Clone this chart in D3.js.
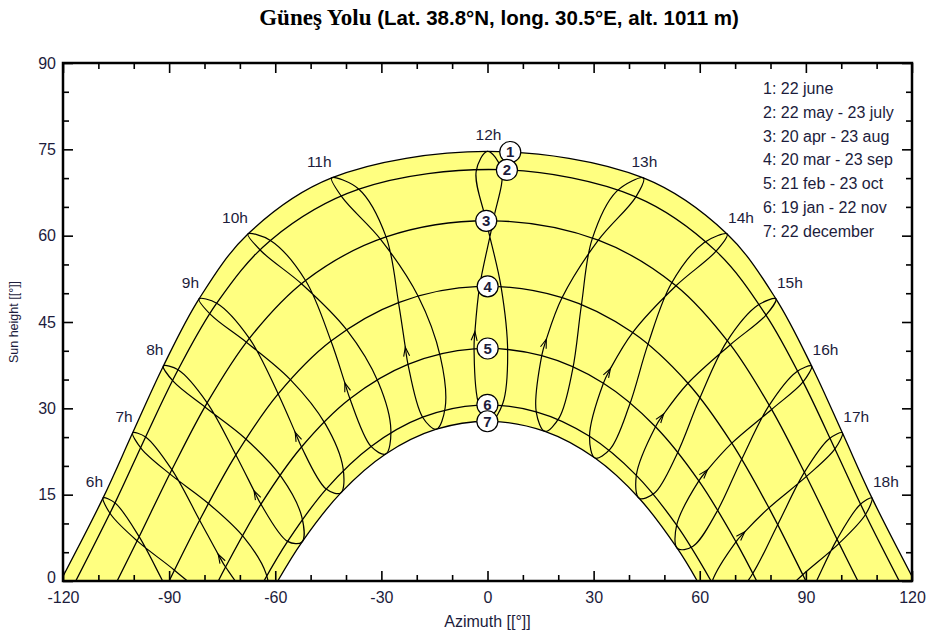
<!DOCTYPE html>
<html>
<head>
<meta charset="utf-8">
<script src="https://cdn.jsdelivr.net/npm/d3@7"></script>
<style>
  body { margin: 0; background: #ffffff; }
  text { font-family: "Liberation Sans", Arial, sans-serif; }
</style>
</head>
<body>
<svg id="chart" width="927" height="637"></svg>
<script>
// ---- Sun position [azimuth °, height °] at legal time 6h, 7h ... 18h ----
const hourLabels = ["6h", "7h", "8h", "9h", "10h", "11h", "12h", "13h", "14h", "15h", "16h", "17h", "18h"];

const jan19 = [[-74.94,-14.38],[-66.11,-3.37],[-56.51,6.88],[-45.60,15.97],[-32.92,23.38],[-18.35,28.46],[-2.39,30.57],[13.77,29.40],[28.84,25.14],[42.07,18.35],[53.47,9.69],[63.41,-0.27],[72.40,-11.09]];
const feb21 = [[-83.35,-9.02],[-74.05,2.43],[-64.04,13.34],[-52.58,23.28],[-38.89,31.67],[-22.48,37.65],[-3.80,40.33],[15.33,39.14],[32.76,34.36],[47.49,26.81],[59.74,17.40],[70.24,6.81],[79.73,-4.47]];
const mar01 = [[-85.52,-6.90],[-76.12,4.63],[-66.00,15.68],[-54.36,25.82],[-40.33,34.43],[-23.24,40.62],[-3.55,43.34],[16.63,42.00],[34.76,36.91],[49.81,29.02],[62.19,19.32],[72.73,8.54],[82.29,-2.86]];
const mar20 = [[-90.88,-1.09],[-81.38,10.56],[-71.13,21.90],[-59.17,32.51],[-44.25,41.69],[-25.16,48.38],[-2.23,51.18],[21.10,49.24],[41.03,43.17],[56.66,34.36],[69.06,23.95],[79.55,12.71],[89.12,1.09]];
const apr20 = [[-98.48,7.70],[-89.23,19.34],[-79.25,30.96],[-67.32,42.16],[-51.44,52.22],[-28.67,59.79],[1.60,62.58],[31.33,59.22],[53.29,51.30],[68.64,41.06],[80.31,29.81],[90.17,18.17],[99.39,6.54]];
const may22 = [[-105.30,13.57],[-96.65,25.03],[-87.47,36.70],[-76.54,48.27],[-61.37,59.18],[-36.35,68.07],[3.99,71.46],[41.96,66.75],[64.61,57.31],[78.72,46.21],[89.21,34.60],[98.22,22.95],[106.86,11.55]];
const jun22 = [[-108.67,14.44],[-100.31,25.74],[-91.62,37.36],[-81.54,49.02],[-67.73,60.29],[-44.07,70.03],[0.00,74.64],[44.07,70.03],[67.73,60.29],[81.54,49.02],[91.62,37.36],[100.31,25.74],[108.67,14.44]];
const jul23 = [[-106.47,11.55],[-97.81,22.97],[-88.74,34.63],[-78.17,46.23],[-63.91,57.29],[-41.06,66.64],[-3.20,71.18],[36.49,67.69],[61.28,58.80],[76.39,47.89],[87.32,36.33],[96.52,24.67],[105.22,13.20]];
const aug23 = [[-98.86,6.88],[-89.63,18.52],[-79.70,30.15],[-67.91,41.36],[-52.35,51.52],[-30.11,59.28],[-0.32,62.40],[29.58,59.39],[51.97,51.70],[67.64,41.58],[79.48,30.38],[89.44,18.75],[98.68,7.11]];
const sep23 = [[-88.49,1.87],[-78.89,13.47],[-68.32,24.68],[-55.73,35.00],[-39.85,43.67],[-19.64,49.51],[3.83,51.13],[26.57,48.04],[45.37,41.15],[60.06,31.83],[71.86,21.16],[82.03,9.79],[91.51,-1.87]];
const oct23 = [[-78.40,-3.63],[-68.86,7.58],[-58.24,18.04],[-45.81,27.26],[-30.87,34.52],[-13.32,38.95],[5.70,39.72],[24.06,36.71],[40.09,30.48],[53.48,21.95],[64.74,11.92],[74.63,0.96],[83.88,-10.50]];
const nov22 = [[-71.69,-9.54],[-62.58,1.23],[-52.48,11.09],[-40.83,19.60],[-27.31,26.16],[-11.97,30.10],[4.34,30.88],[20.29,28.38],[34.72,22.97],[47.22,15.30],[58.00,6.00],[67.50,-4.39],[76.29,-15.49]];
const dec22 = [[-70.83,-13.77],[-62.09,-3.07],[-52.45,6.77],[-41.46,15.31],[-28.78,22.06],[-14.45,26.37],[0.93,27.75],[16.24,26.00],[30.39,21.36],[42.86,14.38],[53.67,5.65],[63.18,-4.31],[71.83,-15.10]];

// Calendar order used to trace each hour line through the year
const yearOrder = [jan19, feb21, mar01, mar20, apr20, may22, jun22, jul23, aug23, sep23, oct23, nov22, dec22];

// Numbered day paths, their sunrise / sunset azimuths and legend texts
const dayPaths = [jun22, may22, apr20, mar20, feb21, jan19, dec22];
const sunriseAz = [-120.7, -116.4, -104.7, -90.0, -76.1, -63.2, -59.3];
const sunsetAz = [120.7, 116.4, 104.7, 90.0, 76.1, 63.2, 59.3];
const badgeAz = [6.4, 5.5, -0.4, 0, 0, 0, 0];
const legendLabels = ["1: 22 june", "2: 22 may - 23 july", "3: 20 apr - 23 aug", "4: 20 mar - 23 sep",
                      "5: 21 feb - 23 oct", "6: 19 jan - 22 nov", "7: 22 december"];

// Axis ticks
const xTicks = [-120, -90, -60, -30, 0, 30, 60, 90, 120];
const xMinor = [-110, -100, -80, -70, -50, -40, -20, -10, 10, 20, 40, 50, 70, 80, 100, 110];
const yTicks = [0, 15, 30, 45, 60, 75, 90];
const yMinor = [5, 10, 20, 25, 35, 40, 50, 55, 65, 70, 80, 85];

const titleMain = "Güneş Yolu";
const titleInfo = " (Lat. 38.8°N, long. 30.5°E, alt. 1011 m)";

// ---- Layout ----
const svg = d3.select("#chart");
const plot = { x0: 63, x1: 912, y0: 63, y1: 581 };
const x = d3.scaleLinear().domain([-120, 120]).range([plot.x0, plot.x1]);
const y = d3.scaleLinear().domain([0, 90]).range([plot.y1, plot.y0]);
const ink = "#1c1c3c";

svg.append("defs").append("clipPath").attr("id", "plotClip")
  .append("rect").attr("x", plot.x0).attr("y", plot.y0)
  .attr("width", plot.x1 - plot.x0).attr("height", plot.y1 - plot.y0);

const g = svg.append("g").attr("clip-path", "url(#plotClip)");

const smooth = d3.line().x(d => x(d[0])).y(d => y(d[1])).curve(d3.curveCatmullRom.alpha(0.5));
const loop = d3.line().x(d => x(d[0])).y(d => y(d[1])).curve(d3.curveCatmullRomClosed.alpha(0.5));

// Each day path: sunrise on the horizon, hourly positions above it, sunset
const dayPoints = dayPaths.map((pts, i) =>
  [[sunriseAz[i], 0], ...pts.filter(p => p[1] > 0), [sunsetAz[i], 0]]);

// Yellow band between the 22 june and 22 december paths
const upper = smooth(dayPoints[0]);
const lower = smooth(dayPoints[6].slice().reverse()).replace(/^M/, "L");
g.append("path").attr("d", upper + lower + "Z").attr("fill", "#FFFF80").attr("stroke", "none");

// Hour lines (analemmas)
hourLabels.forEach((h, k) => {
  const pts = yearOrder.map(s => s[k]);
  g.append("path").attr("d", loop(pts))
    .attr("fill", "none").attr("stroke", "#000").attr("stroke-width", 1.2);

  // small arrow showing the direction of the year on each hour line
  const p = mar01[k], a = feb21[k], b = mar20[k];
  if (p[1] > 0.5) {
    const px = x(p[0]), py = y(p[1]);
    let dx = x(b[0]) - x(a[0]), dy = y(b[1]) - y(a[1]);
    const L = Math.hypot(dx, dy); dx /= L; dy /= L;
    const nx = -dy, ny = dx, len = 9, half = 3;
    g.append("path")
      .attr("d", `M${px - len * dx + half * nx},${py - len * dy + half * ny}L${px},${py}L${px - len * dx - half * nx},${py - len * dy - half * ny}`)
      .attr("fill", "none").attr("stroke", "#000").attr("stroke-width", 1.1);
  }
});

// Day paths
const dayNodes = dayPoints.map(pts =>
  g.append("path").attr("d", smooth(pts))
    .attr("fill", "none").attr("stroke", "#000").attr("stroke-width", 1.3).node());

// Hour labels beside the 22 june positions
hourLabels.forEach((h, k) => {
  const hr = k + 6;
  const p = jun22[k];
  const anchor = hr < 12 ? "end" : (hr <= 13 ? "middle" : "start");
  const dx = hr < 12 ? 0 : 1;
  svg.append("text").text(h)
    .attr("x", x(p[0]) + dx).attr("y", y(p[1]) - 11)
    .attr("text-anchor", anchor).attr("font-size", 15.5).attr("fill", ink);
});

// Numbered badges sitting on each day path
dayNodes.forEach((node, i) => {
  const tx = x(badgeAz[i]);
  const total = node.getTotalLength();
  let best = null;
  for (let l = 0; l <= total; l += 0.5) {
    const pt = node.getPointAtLength(l);
    if (!best || Math.abs(pt.x - tx) < Math.abs(best.x - tx)) best = pt;
  }
  svg.append("circle").attr("cx", best.x).attr("cy", best.y).attr("r", 10.5)
    .attr("fill", "#fff").attr("stroke", "#000").attr("stroke-width", 1.2);
  svg.append("text").text(i + 1)
    .attr("x", best.x).attr("y", best.y + 5.5)
    .attr("text-anchor", "middle").attr("font-size", 15).attr("font-weight", "bold").attr("fill", ink);
});

// ---- Axes with inward ticks ----
const tickStyle = sel => {
  sel.select(".domain").remove();
  sel.selectAll(".tick line").attr("stroke", "#000").attr("stroke-width", 1.6);
  sel.selectAll(".tick text").attr("font-size", 16).attr("fill", ink)
    .attr("font-family", "Liberation Sans, Arial, sans-serif");
};
const fmt = d => String(d);

svg.append("g").attr("transform", `translate(0,${plot.y1})`)
  .call(d3.axisBottom(x).tickValues(xTicks).tickSize(-10).tickSizeOuter(0).tickPadding(11).tickFormat(fmt)).call(tickStyle);
svg.append("g").attr("transform", `translate(0,${plot.y1})`)
  .call(d3.axisBottom(x).tickValues(xMinor).tickSize(-6).tickSizeOuter(0).tickFormat("")).call(tickStyle);
svg.append("g").attr("transform", `translate(0,${plot.y0})`)
  .call(d3.axisTop(x).tickValues(xTicks).tickSize(-10).tickSizeOuter(0).tickFormat("")).call(tickStyle);
svg.append("g").attr("transform", `translate(0,${plot.y0})`)
  .call(d3.axisTop(x).tickValues(xMinor).tickSize(-6).tickSizeOuter(0).tickFormat("")).call(tickStyle);

const yAxis = svg.append("g").attr("transform", `translate(${plot.x0},0)`)
  .call(d3.axisLeft(y).tickValues(yTicks).tickSize(-10).tickSizeOuter(0).tickPadding(7).tickFormat(fmt)).call(tickStyle);
// the zero label sits a little above the corner so it clears the "-120" below
yAxis.selectAll(".tick text").filter(d => d === 0).attr("dy", "0.1em");
svg.append("g").attr("transform", `translate(${plot.x0},0)`)
  .call(d3.axisLeft(y).tickValues(yMinor).tickSize(-6).tickSizeOuter(0).tickFormat("")).call(tickStyle);
svg.append("g").attr("transform", `translate(${plot.x1},0)`)
  .call(d3.axisRight(y).tickValues(yTicks).tickSize(-10).tickSizeOuter(0).tickFormat("")).call(tickStyle);
svg.append("g").attr("transform", `translate(${plot.x1},0)`)
  .call(d3.axisRight(y).tickValues(yMinor).tickSize(-6).tickSizeOuter(0).tickFormat("")).call(tickStyle);

// Plot frame
svg.append("rect").attr("x", plot.x0).attr("y", plot.y0)
  .attr("width", plot.x1 - plot.x0).attr("height", plot.y1 - plot.y0)
  .attr("fill", "none").attr("stroke", "#000").attr("stroke-width", 2.5);

// Axis titles
svg.append("text").text("Azimuth [[°]]")
  .attr("x", (plot.x0 + plot.x1) / 2).attr("y", 627)
  .attr("text-anchor", "middle").attr("font-size", 16).attr("fill", ink);
svg.append("text").text("Sun height [[°]]")
  .attr("transform", `translate(18,${(plot.y0 + plot.y1) / 2}) rotate(-90)`)
  .attr("text-anchor", "middle").attr("font-size", 12.5).attr("fill", ink);

// Legend
legendLabels.forEach((t, i) => {
  svg.append("text").text(t)
    .attr("x", 763).attr("y", 94 + i * 23.8)
    .attr("font-size", 16).attr("fill", ink);
});

// Title
const title = svg.append("text").attr("x", 499).attr("y", 25)
  .attr("text-anchor", "middle").attr("font-weight", "bold").attr("fill", "#000");
title.append("tspan").text(titleMain)
  .attr("font-family", "Liberation Serif, Times New Roman, serif").attr("font-size", 23);
title.append("tspan").text(titleInfo)
  .attr("font-family", "Liberation Sans, Arial, sans-serif").attr("font-size", 20.5);
</script>
</body>
</html>
